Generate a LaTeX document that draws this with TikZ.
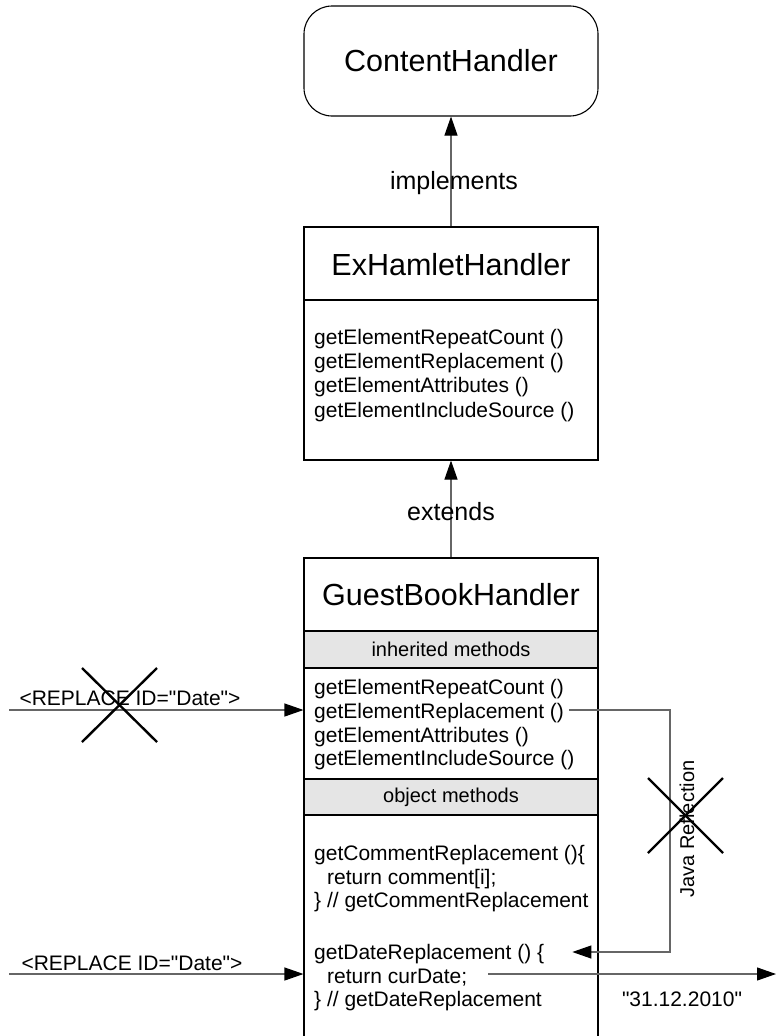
\documentclass[tikz,border=0pt]{standalone}
\usepackage{fontspec}
\setmainfont{Liberation Sans}[Ligatures=TeXOff]
\usetikzlibrary{arrows.meta}
\newcommand{\fsz}[2]{\fontsize{#1}{#2}\selectfont}
\begin{document}
\begin{tikzpicture}[x=1pt,y=-1pt,
  conn/.style={draw=black!60, line width=1.1pt, -{Triangle[length=19pt,width=13pt,black]}},
  plainline/.style={draw=black!60, line width=1.1pt},
  box/.style={draw=black, line width=1.1pt, minimum width=294pt, inner sep=0pt},
  rbox/.style={draw=black, line width=1.1pt, minimum width=294pt, minimum height=110pt, rounded corners=28pt, font=\fsz{30.5}{34}},
  title/.style={font=\fsz{30.5}{34}, inner sep=0pt},
  band/.style={draw=black, line width=1.1pt, fill=black!10, minimum width=294pt, inner sep=0pt, font=\fsz{20}{24}},
  ml/.style={anchor=base west, inner sep=0pt, text height=15pt, text depth=4pt, font=\fsz{21}{24}},
  lbl/.style={inner sep=0pt, font=\fsz{25}{28}},
  slbl/.style={inner sep=0pt, font=\fsz{21}{24}},
  cross/.style={draw=black, line width=2.4pt},
]
\clip (0,0) rectangle (776,1036);

% ContentHandler
\node[rbox] (content) at (451,61) {ContentHandler};

% ExHamletHandler
\node[box, minimum height=233pt] (exh) at (451,343.5) {};
\node[title] (exht) at (451,265) {ExHamletHandler};
\draw[line width=1.1pt] (exh.west |- 0,300) -- (exh.east |- 0,300);
\node[ml] (e1) at (314,344) {getElementRepeatCount ()};
\node[ml] (e2) at (314,368.3) {getElementReplacement ()};
\node[ml] (e3) at (314,392.6) {getElementAttributes ()};
\node[ml] (e4) at (314,417) {getElementIncludeSource ()};

% GuestBookHandler
\node[box, minimum height=502pt] (gbh) at (451,809) {};
\node[title] (gbht) at (451,595) {GuestBookHandler};
\node[band, minimum height=37pt] (inh) at (451,649.5) {inherited methods};
\node[ml] (m1) at (314,694) {getElementRepeatCount ()};
\node[ml] (m2) at (314,718) {getElementReplacement ()};
\node[ml] (m3) at (314,742) {getElementAttributes ()};
\node[ml] (m4) at (314,765) {getElementIncludeSource ()};
\node[band, minimum height=36pt] (obj) at (451,797) {object methods};
\node[ml] (c1) at (314,860) {getCommentReplacement ()\{};
\node[ml] (c2) at (327,884) {return comment[i];};
\node[ml] (c3) at (314,907) {\} // getCommentReplacement};
\node[ml] (d1) at (314,959) {getDateReplacement () \{};
\node[ml] (d2) at (327,983) {return curDate;};
\node[ml] (d3) at (314,1006) {\} // getDateReplacement};

% inheritance connectors
\draw[conn] (exh.north) -- (content.south);
\node[lbl] (impl) at (454,183) {implements};
\draw[conn] (gbh.north) -- (exh.south);
\node[lbl] (ext) at (451,512) {extends};

% left inputs
\coordinate (inA) at (9,710);
\draw[conn] (inA) -- (inA -| gbh.west);
\node[slbl] (inAl) at (130,698) {<REPLACE ID="Date">};
\draw[cross] (82,668) -- (157,742) (82,742) -- (157,668);

\coordinate (inB) at (9,974);
\draw[conn] (inB) -- (inB -| gbh.west);
\node[slbl] (inBl) at (132,963) {<REPLACE ID="Date">};

% Java reflection
\coordinate (jrtop) at (670,710);
\coordinate (jrbot) at (670,952);
\draw[conn] ([xshift=5pt]m2.east |- jrtop) -- (jrtop) -- (jrbot) -- ([xshift=28pt]d1.east |- jrbot);
\node[inner sep=0pt, font=\fsz{20}{24}, rotate=90] (jrl) at (687,829) {Java Reflection};
\draw[cross] (648,778) -- (723,853) (648,853) -- (723,778);

% output
\coordinate (out) at (776,974);
\draw[conn] ([xshift=21pt]d2.east |- out) -- (out);
\node[slbl] (outl) at (682,999) {"31.12.2010"};
\end{tikzpicture}
\end{document}
